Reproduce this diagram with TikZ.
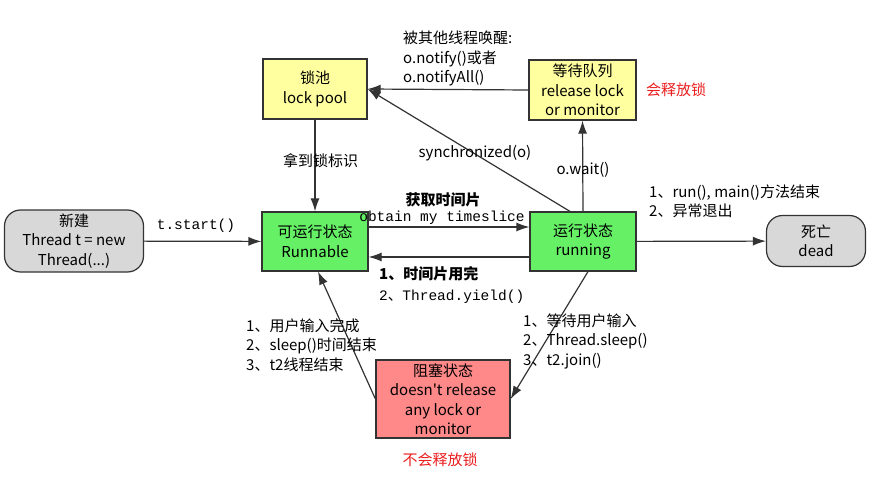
\documentclass[tikz,border=0pt]{standalone}
\usepackage{fontspec}
\setmainfont{Noto Sans CJK SC}
\setmonofont{Liberation Mono}
\newfontfamily\cjk{Noto Sans CJK SC}
\usetikzlibrary{arrows.meta}

\definecolor{boxgreen}{RGB}{102,240,102}
\definecolor{boxyellow}{RGB}{255,255,160}
\definecolor{boxred}{RGB}{255,136,136}
\definecolor{boxgray}{RGB}{216,216,216}
\definecolor{linegray}{RGB}{51,51,51}
\definecolor{notered}{RGB}{235,30,30}

\tikzset{
  state/.style={draw=linegray, line width=1.2pt, align=center, font=\fontsize{15}{19.5}\selectfont, inner sep=2pt},
  endstate/.style={state, fill=boxgray, rounded corners=16pt},
  arr/.style={draw=linegray, line width=1.2pt, -{Latex[length=13pt,width=9pt]}},
  lbl/.style={font=\fontsize{15}{19.5}\selectfont, inner sep=0pt, align=left},
  mono/.style={font=\ttfamily\fontsize{14.5}{19}\selectfont, inner sep=0pt},
  warn/.style={font=\fontsize{15}{19}\selectfont, text=notered, inner sep=0pt}
}

\begin{document}
\begin{tikzpicture}[x=1pt,y=-1pt]
\useasboundingbox[fill=white] (0,0) rectangle (876,492);

% states
\node[endstate, minimum width=139pt, minimum height=62pt] (new) at (74,241) {新建\\Thread t = new\\Thread(...)};
\node[state, fill=boxgreen, minimum width=106pt, minimum height=59pt] (runnable) at (315,241.5) {可运行状态\\Runnable};
\node[state, fill=boxgreen, minimum width=106pt, minimum height=59pt] (running) at (583,241.5) {运行状态\\running};
\node[endstate, minimum width=99pt, minimum height=51pt] (dead) at (816,241) {死亡\\dead};
\node[state, fill=boxyellow, minimum width=104pt, minimum height=60pt] (lockpool) at (315,89) {锁池\\lock pool};
\node[state, fill=boxyellow, minimum width=107pt, minimum height=60pt] (waitq) at (582.5,90) {等待队列\\release lock\\or monitor};
\node[state, fill=boxred, minimum width=134pt, minimum height=78pt] (blocked) at (443,399) {阻塞状态\\doesn{\cjk'}t release\\any lock or\\monitor};

% transitions
\draw[arr] (new) -- (runnable);
\draw[arr] (lockpool) -- (runnable);
\draw[arr] (waitq.west) -- (lockpool.east);
\draw[arr] ([xshift=-13pt]running.north) -- (lockpool.east);
\draw[arr] (running.north) -- (waitq.south);
\draw[arr] ([yshift=14.5pt]runnable.east) -- ([yshift=14.5pt]running.west);
\draw[arr] ([yshift=-15.5pt]running.west) -- ([yshift=-15.5pt]runnable.east);
\draw[arr] (running) -- (dead);
\draw[arr] ([xshift=5pt]running.south) -- (blocked.east);
\draw[arr] (blocked.west) -- ([xshift=3pt]runnable.south);

% labels
\node[mono] (lstart) at (196,226) {t.start()};
\node[lbl, anchor=west] (lgot) at (283,161) {拿到锁标识};
\node[lbl, anchor=north west] (lwake) at (403,31) {被其他线程唤醒:\\o.notify()或者\\o.notifyAll()};
\node[lbl] (lsync) at (475,153) {synchronized(o)};
\node[lbl] (lwait) at (583,170) {o.wait()};
\node[lbl, font=\bfseries\fontsize{15}{19}\selectfont] (lslice) at (443,200) {获取时间片};
\node[mono] (lslicen) at (442,218) {obtain my timeslice};
\node[lbl, anchor=west, font=\bfseries\fontsize{15}{19}\selectfont] (lused) at (379,274) {1、时间片用完};
\node[mono, anchor=west] (lyield) at (379,297) {2{\cjk 、}Thread.yield()};
\node[lbl, anchor=south west] (ldone) at (649,218) {1、run(), main()方法结束\\2、异常退出};
\node[lbl, anchor=west] (lto) at (523,341) {1、等待用户输入\\2、Thread.sleep()\\3、t2.join()};
\node[lbl, anchor=west] (lback) at (246,345) {1、用户输入完成\\2、sleep()时间结束\\3、t2线程结束};
\node[warn] (lrel) at (676,90) {会释放锁};
\node[warn] (lnorel) at (440,460) {不会释放锁};
\end{tikzpicture}
\end{document}
